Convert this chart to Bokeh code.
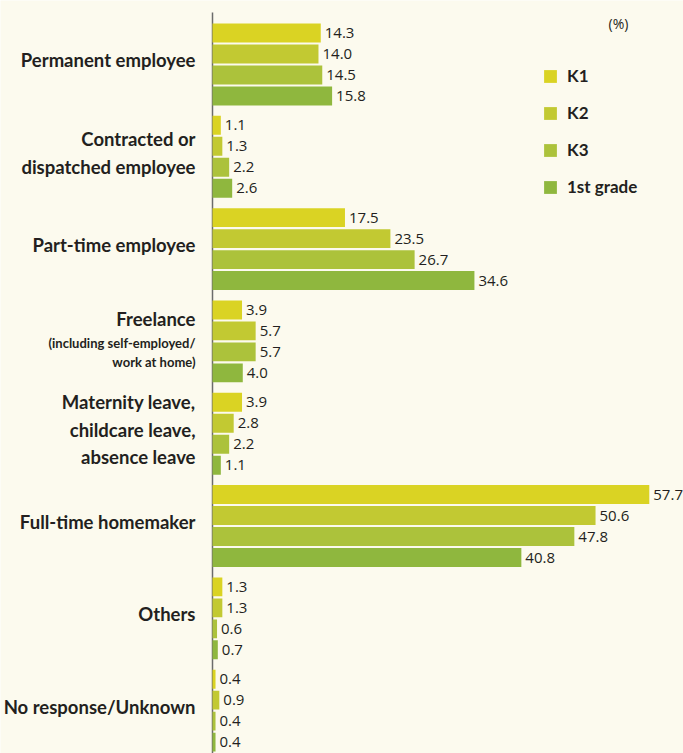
from bokeh.plotting import figure
from bokeh.models import ColumnDataSource, Range1d, Label, Legend, LegendItem
from bokeh.core.properties import value
from bokeh.embed import file_html
from bokeh.resources import INLINE

categories = [
    "Permanent employee",
    "Contracted or\ndispatched employee",
    "Part-time employee",
    "Freelance",
    "Maternity leave,\nchildcare leave,\nabsence leave",
    "Full-time homemaker",
    "Others",
    "No response/Unknown",
]
subtitles = ["", "", "", "(including self-employed/\nwork at home)", "", "", "", ""]
series = ["K1", "K2", "K3", "1st grade"]
k1 = [14.3, 1.1, 17.5, 3.9, 3.9, 57.7, 1.3, 0.4]
k2 = [14.0, 1.3, 23.5, 5.7, 2.8, 50.6, 1.3, 0.9]
k3 = [14.5, 2.2, 26.7, 5.7, 2.2, 47.8, 0.6, 0.4]
first_grade = [15.8, 2.6, 34.6, 4.0, 1.1, 40.8, 0.7, 0.4]
values = [k1, k2, k3, first_grade]
unit_label = "(%)"

colors = ["#DAD323", "#C2C932", "#ACC23B", "#8FB73E"]
BG = "#FCFAEE"
TEXT = "#231F20"
CAT_FONT = "Lato"
NUM_FONT = "Open Sans"

GROUP_PITCH = 4.4
BAR_H = 0.9
PX_X = 7.57      # pixels per percent
PX_Y = 20.98     # pixels per bar slot
AXIS_PX = 212    # axis position in pixels
TOP_PX = 32.5    # centre of first bar in pixels

W, H = 683, 753
x0 = -AXIS_PX / PX_X
x1 = (W - AXIS_PX) / PX_X
ytop = -TOP_PX / PX_Y
ybot = ytop + H / PX_Y

p = figure(width=W, height=H, output_backend="svg", toolbar_location=None,
           x_range=Range1d(x0, x1), y_range=Range1d(ybot, ytop),
           min_border=0, background_fill_color=BG, border_fill_color=BG,
           outline_line_color=None)
p.xaxis.visible = False
p.yaxis.visible = False
p.grid.visible = False

# axis line
p.segment(x0=[0], y0=[ytop + 12 / PX_Y], x1=[0], y1=[ybot], line_color="#6B6B6B", line_width=1.5)

items = []
for s, (name, vals) in enumerate(zip(series, values)):
    ys = [g * GROUP_PITCH + s for g in range(len(categories))]
    src = ColumnDataSource(dict(y=ys, v=vals, t=[f"{v:.1f}" for v in vals]))
    r = p.hbar(y="y", right="v", left=0, height=BAR_H, source=src,
               fill_color=colors[s], line_color=None)
    p.text(x="v", y="y", text="t", source=src, x_offset=4, text_baseline="middle",
           text_align="left", text_font=value(NUM_FONT), text_font_size="15px",
           text_color=TEXT)
    items.append(LegendItem(label=name, renderers=[r]))

LINE_SP = 27.5
LIFT = 4
for g, (cat, sub) in enumerate(zip(categories, subtitles)):
    yc = g * GROUP_PITCH + 1.5
    lines = cat.split("\n")
    if sub:
        offs = [-18]
        for i, sl in enumerate(sub.split("\n")):
            p.add_layout(Label(x=0, y=yc, x_offset=-17, y_offset=-(4 + 19 * i) + 2, text=sl,
                               text_align="right", text_baseline="middle",
                               text_font=CAT_FONT, text_font_style="bold",
                               text_font_size="13px", text_color=TEXT))
    else:
        n = len(lines)
        offs = [(i - (n - 1) / 2) * LINE_SP for i in range(n)]
    for ln, off in zip(lines, offs):
        p.add_layout(Label(x=0, y=yc, x_offset=-17, y_offset=-off + LIFT, text=ln,
                           text_align="right", text_baseline="middle",
                           text_font=CAT_FONT, text_font_style="bold",
                           text_font_size="18.5px", text_color=TEXT))

legend = Legend(items=items, location=(542, 556), orientation="vertical",
                glyph_width=16, glyph_height=16, label_height=16, label_standoff=9,
                spacing=16, padding=0, margin=0, border_line_color=None,
                background_fill_alpha=0, label_text_font=CAT_FONT,
                label_text_font_style="bold", label_text_font_size="17px",
                label_text_color=TEXT, label_text_baseline="middle")
p.add_layout(legend)

p.add_layout(Label(x=(608 - AXIS_PX) / PX_X, y=ytop + 23 / PX_Y, text=unit_label,
                   text_baseline="middle", text_font=NUM_FONT, text_font_size="14px",
                   text_color=TEXT))

html = file_html(p, INLINE)
html = html.replace("<body>", f'<body style="background-color:{BG};">', 1)
open("out.html", "w").write(html)
